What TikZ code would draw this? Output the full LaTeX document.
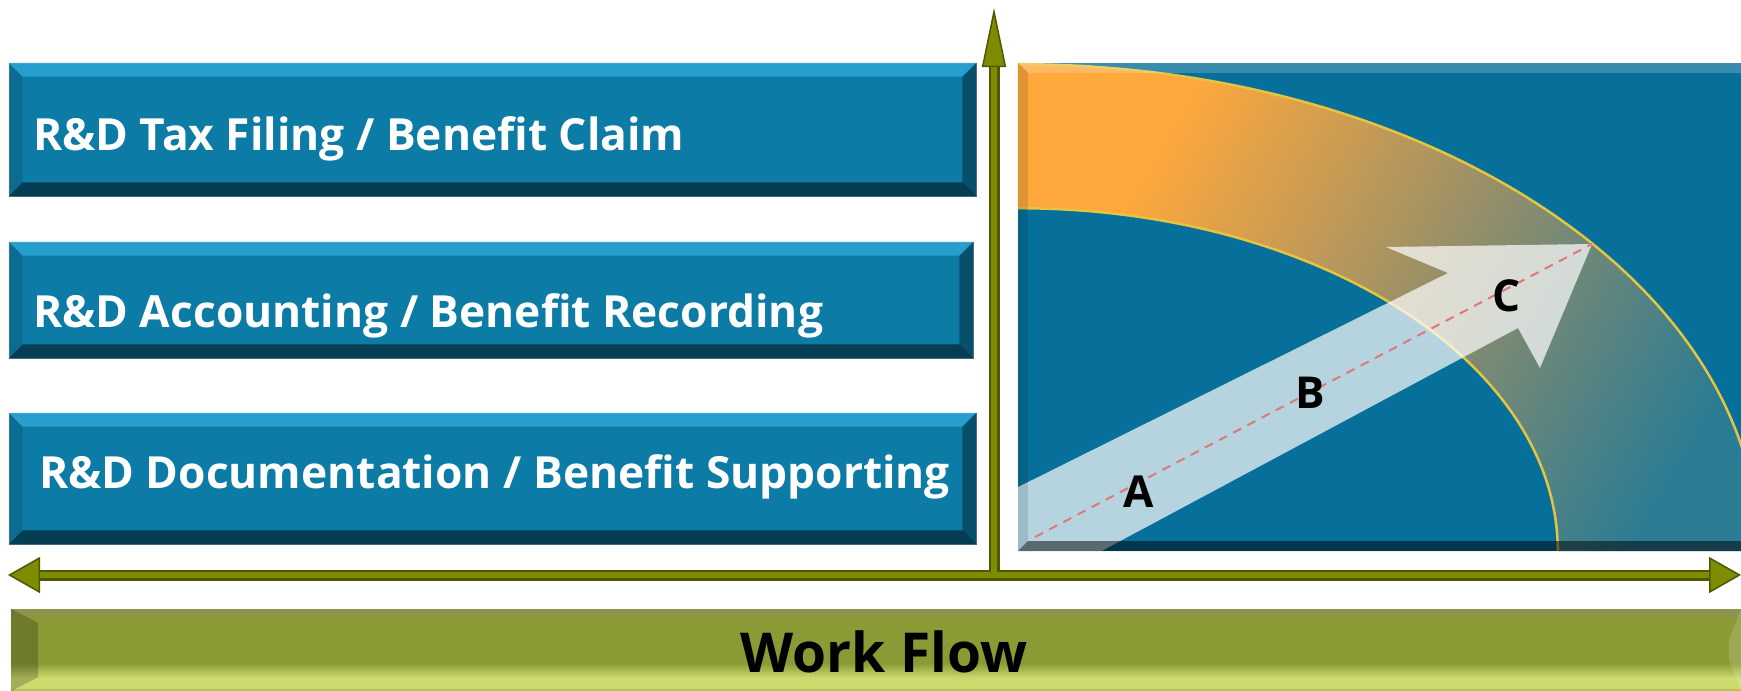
\documentclass[tikz,border=0pt]{standalone}
\usepackage{fontspec}
\setmainfont{Open Sans}
\usepackage{tikz}
\usetikzlibrary{arrows.meta,shapes,calc}

\definecolor{boxblue}{HTML}{0C7BA6}
\definecolor{boxline}{HTML}{5A7C98}
\definecolor{bevellight}{HTML}{3CBEF0}
\definecolor{panelblue}{HTML}{07709A}
\definecolor{ringorange}{HTML}{FFA83C}
\definecolor{ringtan}{HTML}{C49A55}
\definecolor{ringmid}{HTML}{8A8C6E}
\definecolor{ringteal}{HTML}{2A7C94}
\definecolor{ringline}{HTML}{E6C440}
\definecolor{dashred}{HTML}{E07878}
\definecolor{axisgreen}{HTML}{7E8C04}
\definecolor{axisdark}{HTML}{4E5800}
\definecolor{flowedge}{HTML}{A4B040}
\definecolor{flowlight}{HTML}{CCDA6E}
\definecolor{flowmid}{HTML}{8B9A34}
\definecolor{flowgray}{HTML}{8F944C}

\pgfdeclareverticalshading{flowshade}{100bp}{color(0bp)=(flowedge); color(25bp)=(flowedge);
  color(27bp)=(flowlight); color(33bp)=(flowlight); color(42bp)=(flowmid); color(68bp)=(flowmid);
  color(72bp)=(flowgray); color(75bp)=(flowgray); color(100bp)=(flowgray)}
\pgfdeclarehorizontalshading{ringshade}{100bp}{color(0bp)=(ringorange); color(28bp)=(ringorange);
  color(42bp)=(ringtan); color(55bp)=(ringmid); color(76bp)=(ringteal); color(100bp)=(ringteal)}

% bevelled edges drawn over a node: node, size, top fill
\newcommand\bevel[3]{%
  \fill[#3] (#1.north west) -- (#1.north east) -- ([shift={(-#2,-#2)}]#1.north east)
    -- ([shift={(#2,-#2)}]#1.north west) -- cycle;
  \fill[black,opacity=.12] (#1.north west) -- ([shift={(#2,-#2)}]#1.north west)
    -- ([shift={(#2,#2)}]#1.south west) -- (#1.south west) -- cycle;
  \fill[black,opacity=.35] (#1.north east) -- (#1.south east) -- ([shift={(-#2,#2)}]#1.south east)
    -- ([shift={(-#2,-#2)}]#1.north east) -- cycle;
  \fill[black,opacity=.5] (#1.south west) -- ([shift={(#2,#2)}]#1.south west)
    -- ([shift={(-#2,#2)}]#1.south east) -- (#1.south east) -- cycle;
}

\tikzset{
  stepbox/.style={rectangle, fill=boxblue, draw=boxline, line width=.8pt, inner sep=0pt},
  steptext/.style={text=white, font=\bfseries\fontsize{44.3}{50}\selectfont, anchor=base west, inner sep=0pt},
  letter/.style={font=\bfseries\fontsize{44}{50}\selectfont, inner sep=0pt},
  toplight/.style={bevellight, opacity=.55},
}

\begin{document}
\begin{tikzpicture}[x=1pt, y=-1pt]
    \useasboundingbox (0,0) rectangle (1741,691);

    % the three steps
    \node[stepbox, minimum width=967pt, minimum height=133pt] (tax) at (492.5,129.5) {};
    \node[stepbox, minimum width=964pt, minimum height=116pt] (acc) at (491,300) {};
    \node[stepbox, minimum width=967pt, minimum height=131pt] (doc) at (492.5,478.5) {};
    \bevel{tax}{14pt}{toplight}
    \bevel{acc}{14pt}{toplight}
    \bevel{doc}{14pt}{toplight}
    \node[steptext] (taxtext) at (33,150) {R\&D Tax Filing / Benefit Claim};
    \node[steptext] (acctext) at (33,327) {R\&D Accounting / Benefit Recording};
    \node[steptext] (doctext) at (39,488) {R\&D Documentation / Benefit Supporting};

    % right panel with ring and arrow
    \node[rectangle, fill=panelblue, inner sep=0pt, minimum width=742pt, minimum height=488pt] (panel) at (1389,307) {};
    \coordinate (o) at (panel.south west);
    \coordinate (tail) at (1035,537);
    \coordinate (tip) at (1592,244);
    \begin{scope}
        \clip (panel.north west) rectangle (panel.south east);
        \shade[shading=ringshade, shading angle=-30]
            ([yshift=487pt]o) arc[start angle=90, end angle=0, x radius=741pt, y radius=487pt]
            -- ([xshift=540pt]o) arc[start angle=0, end angle=90, x radius=540pt, y radius=343pt] -- cycle;
        \draw[ringline, line width=2.5pt] ([yshift=487pt]o) arc[start angle=90, end angle=0, x radius=741pt, y radius=487pt];
        \draw[ringline, line width=2.5pt] ([yshift=343pt]o) arc[start angle=90, end angle=0, x radius=540pt, y radius=343pt];
        \fill[white, opacity=.7] (980,506) -- (1448,273) -- (1386,247) -- (tip) -- (1540,368)
            -- (1518,328) -- (1010,600) -- (960,600) -- cycle;
        \draw[dashred, line width=2pt, dash pattern=on 9pt off 7pt] (tail) -- (tip);
    \end{scope}
    \bevel{panel}{10pt}{white,opacity=.2}
    \node[letter] (la) at (1139,492) {A};
    \node[letter] (lb) at (1310,393) {B};
    \node[letter] (lc) at (1507,296) {C};

    % axes
    \coordinate (origin) at (994,575);
    \coordinate (ytop) at (994,8);
    \coordinate (xleft) at (8,575);
    \coordinate (xright) at (1741,575);
    \draw[axisdark, line width=11pt, -{Triangle[length=59pt,width=24pt,line width=1.5pt,fill=axisgreen]}] (origin) -- (ytop);
    \draw[axisdark, line width=11pt, {Triangle[length=32pt,width=36pt,line width=1.5pt,fill=axisgreen]}-{Triangle[length=32pt,width=36pt,line width=1.5pt,fill=axisgreen]}] (xleft) -- (xright);
    \draw[axisgreen, line width=6pt, shorten >=59pt] (origin) -- (ytop);
    \draw[axisgreen, line width=6pt, shorten <=32pt, shorten >=32pt] (xleft) -- (xright);

    % work flow bar
    \node[rectangle, inner sep=0pt, shading=flowshade, minimum width=1730pt, minimum height=82pt] (flow) at (876,650) {};
    \fill[black, opacity=.2] (flow.north west) -- ([shift={(27pt,-14pt)}]flow.north west)
        -- ([shift={(27pt,14pt)}]flow.south west) -- (flow.south west) -- cycle;
    \fill[white, opacity=.15] (flow.north east) -- ([shift={(-12pt,-30pt)}]flow.north east)
        -- ([shift={(-12pt,30pt)}]flow.south east) -- (flow.south east) -- cycle;
    \node[font=\bfseries\fontsize{55}{65}\selectfont, anchor=base, inner sep=0pt] (flowtext) at (884,672) {Work Flow};
\end{tikzpicture}
\end{document}
